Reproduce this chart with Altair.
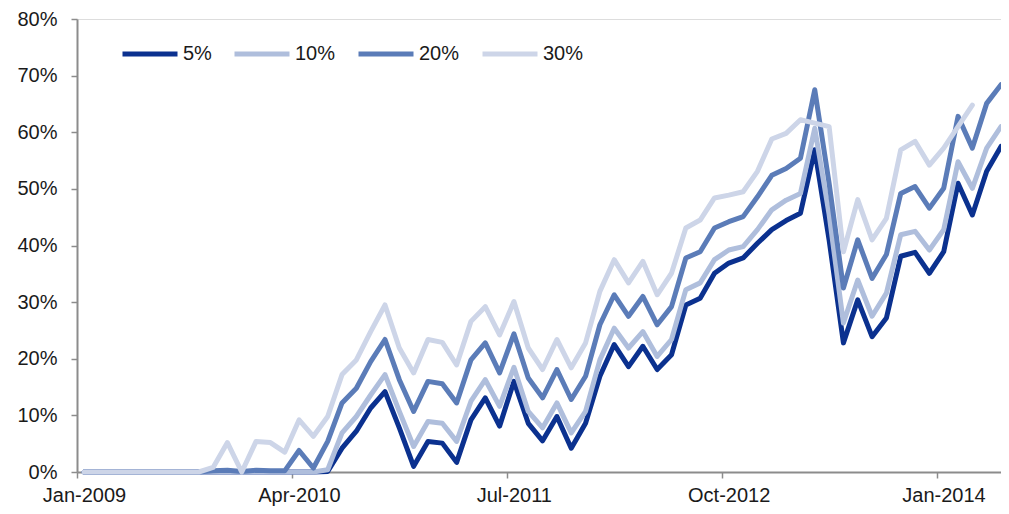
import altair as alt
import pandas as pd

series_names = ["5%", "10%", "20%", "30%"]
series_colors = ["#0b318f", "#afbedc", "#5b7cb8", "#cdd5e8"]

tick_labels = ["Jan-2009", "Apr-2010", "Jul-2011", "Oct-2012", "Jan-2014"]

# monthly values starting Jan-2009 (month index 0)
s5 = [0] * 17 + [
    0.1, 4.2, 7.2, 11.3, 14.2, 7.8, 1.0, 5.4, 5.1, 1.7,
    9.2, 13.1, 8.1, 16.0, 8.6, 5.5, 9.8, 4.2, 8.6, 16.9,
    22.5, 18.6, 22.2, 18.1, 20.7, 29.5, 30.7, 35.1, 36.9, 37.8,
    40.4, 42.8, 44.4, 45.7, 56.9, 41.0, 22.8, 30.4, 23.9, 27.2,
    38.1, 38.8, 35.1, 38.9, 51.0, 45.4, 53.1, 57.5,
]
s10 = [0] * 17 + [
    0.4, 6.9, 9.8, 13.6, 17.2, 10.7, 4.5, 8.9, 8.6, 5.4,
    12.5, 16.3, 11.6, 18.5, 10.7, 7.8, 12.2, 6.9, 10.7, 19.8,
    25.4, 21.9, 24.8, 20.4, 23.4, 32.2, 33.4, 37.5, 39.2, 39.8,
    42.8, 46.3, 48.0, 49.2, 60.7, 45.5, 26.3, 33.9, 27.5, 31.6,
    41.9, 42.5, 39.2, 42.8, 54.8, 50.1, 57.2, 61.0,
]
s20 = [0] * 9 + [
    0.2, 0.3, 0.1, 0.3, 0.2, 0.2, 3.8, 0.7,
    5.4, 12.2, 14.8, 19.5, 23.4, 16.3, 10.7, 16.0, 15.6, 12.2,
    19.8, 22.8, 17.5, 24.4, 16.6, 13.1, 18.1, 12.8, 16.9, 26.0,
    31.3, 27.5, 31.0, 26.0, 29.2, 37.8, 38.9, 43.1, 44.2, 45.1,
    48.6, 52.4, 53.6, 55.4, 67.5, 51.0, 32.5, 41.0, 34.2, 38.4,
    49.2, 50.4, 46.6, 50.1, 62.8, 57.2, 65.1, 68.4,
]
s30 = [0] * 9 + [
    0.8, 5.2, 0.0, 5.4, 5.2, 3.5, 9.2, 6.3,
    9.8, 17.2, 19.8, 24.8, 29.5, 21.9, 17.5, 23.4, 22.9, 18.9,
    26.6, 29.2, 24.2, 30.1, 21.9, 18.1, 23.4, 18.4, 22.8, 31.9,
    37.5, 33.4, 37.2, 31.3, 35.1, 43.1, 44.5, 48.4, 48.9, 49.5,
    53.1, 58.8, 59.8, 62.2, 61.6, 61.0, 38.9, 48.1, 41.0, 44.8,
    56.9, 58.4, 54.2, 57.2, 61.0, 64.8,
]

rows = []
for name, vals in zip(series_names, [s5, s10, s20, s30]):
    for i, v in enumerate(vals):
        rows.append({"idx": i, "value": v, "series": name})
df = pd.DataFrame(rows)

n_months = len(s5)
tick_vals = [i * 15 - 0.5 for i in range(len(tick_labels))]
label_arr = "[" + ",".join("'%s'" % t for t in tick_labels) + "]"

FONT = "Liberation Sans"
GRAY = "#8c8c8c"

chart = (
    alt.Chart(df)
    .mark_line(strokeWidth=5, strokeJoin="round", strokeCap="round")
    .encode(
        x=alt.X(
            "idx:Q",
            scale=alt.Scale(domain=[-0.5, n_months - 1], nice=False, zero=False),
            axis=alt.Axis(
                values=tick_vals,
                labelExpr=label_arr + "[round((datum.value + 0.5) / 15)]",
                labelOffset=7,
                labelFlush=False,
                labelOverlap=False,
                grid=False,
                title=None,
                tickSize=6,
                tickWidth=1.5,
                tickColor=GRAY,
                domainColor=GRAY,
                domainWidth=2,
                labelPadding=7,
                labelFontSize=20,
                labelFont=FONT,
                labelColor="#1a1a1a",
            ),
        ),
        y=alt.Y(
            "value:Q",
            scale=alt.Scale(domain=[0, 80], nice=False),
            axis=alt.Axis(
                values=[0, 10, 20, 30, 40, 50, 60, 70, 80],
                labelExpr="datum.value + '%'",
                grid=False,
                title=None,
                tickSize=6,
                tickWidth=1.5,
                tickColor=GRAY,
                domainColor=GRAY,
                domainWidth=2,
                labelPadding=14,
                labelFontSize=20,
                labelFont=FONT,
                labelColor="#1a1a1a",
            ),
        ),
        color=alt.Color(
            "series:N",
            scale=alt.Scale(domain=series_names, range=series_colors),
            legend=alt.Legend(
                orient="none",
                legendX=43,
                legendY=5,
                direction="horizontal",
                title=None,
                symbolType="stroke",
                symbolSize=3025,
                symbolStrokeWidth=5,
                labelFontSize=20,
                labelFont=FONT,
                labelColor="#1a1a1a",
                labelOffset=3,
                columnPadding=12,
                padding=0,
            ),
        ),
    )
    .properties(
        width=924,
        height=453,
        autosize=alt.AutoSizeParams(type="none"),
        padding={"left": 69, "top": 11, "right": 0, "bottom": 34},
    )
    .configure_view(stroke=None)
    .configure(font=FONT)
)

chart.save("out.html", embed_options={"renderer": "svg", "actions": False})
